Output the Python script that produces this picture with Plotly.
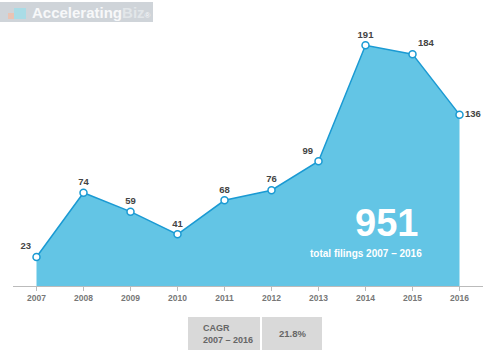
import plotly.graph_objects as go

years = [2007, 2008, 2009, 2010, 2011, 2012, 2013, 2014, 2015, 2016]
filings = [23, 74, 59, 41, 68, 76, 99, 191, 184, 136]
label_pos = ["top left", "top center", "top center", "top center", "top center",
             "top center", "top left", "top center", "top right", "middle right"]
tick_labels = [str(y) for y in years]
total_value = "951"
total_text = "total filings 2007 – 2016"
cagr_label = "CAGR<br>2007 – 2016"
cagr_value = "21.8%"

FONT = "Liberation Sans, Arial, sans-serif"

fig = go.Figure()
fig.add_trace(go.Scatter(
    x=years, y=filings, mode="lines+markers+text",
    fill="tozeroy", fillcolor="#63c5e5",
    line=dict(color="#1a9ad3", width=1.5),
    marker=dict(size=7, color="white", line=dict(color="#1a9ad3", width=1.5)),
    text=["<b>" + str(v) + "</b>" for v in filings], textposition=label_pos,
    textfont=dict(family=FONT, size=9.5, color="#444444"),
    cliponaxis=False, hoverinfo="skip", showlegend=False,
))

fig.update_layout(
    width=500, height=363,
    margin=dict(l=13, r=17, t=34, b=77),
    paper_bgcolor="white", plot_bgcolor="white",
    font=dict(family=FONT),
    xaxis=dict(range=[2006.5, 2016.5], tickvals=years,
               ticktext=["<b>" + t + "</b>" for t in tick_labels],
               showgrid=False, zeroline=False, showline=True, linecolor="#bbbbbb",
               linewidth=1, ticks="outside", ticklen=4, tickcolor="#bbbbbb",
               tickfont=dict(family=FONT, size=8.5, color="#777777")),
    yaxis=dict(range=[0, 200], visible=False, showgrid=False, zeroline=False),
)

# Big total annotation
fig.add_annotation(x=2014.45, y=50, xref="x", yref="y", text="<b>" + total_value + "</b>",
                   showarrow=False, font=dict(family=FONT, size=38, color="white"),
                   xanchor="center", yanchor="middle")
fig.add_annotation(x=2014.0, y=26, xref="x", yref="y", text="<b>" + total_text + "</b>",
                   showarrow=False, font=dict(family=FONT, size=10, color="white"),
                   xanchor="center", yanchor="middle")

def px_x(p):
    return (p - 13) / 470
def px_y(p):
    return (286 - p) / 252

# Logo
fig.add_shape(type="rect", xref="paper", yref="paper",
              x0=px_x(0), x1=px_x(153), y0=px_y(22), y1=px_y(2),
              fillcolor="#cfd4d9", line=dict(width=0), layer="above")
fig.add_shape(type="rect", xref="paper", yref="paper",
              x0=px_x(8), x1=px_x(20), y0=px_y(19), y1=px_y(13),
              fillcolor="#eac3b3", line=dict(width=0), layer="above")
fig.add_shape(type="rect", xref="paper", yref="paper",
              x0=px_x(14), x1=px_x(26), y0=px_y(19), y1=px_y(8),
              fillcolor="#a9dce6", line=dict(width=0), layer="above")
fig.add_annotation(xref="paper", yref="paper", x=px_x(30), y=px_y(12),
                   text="<b>Accelerating</b><b><span style='color:#e2e6e9'>Biz</span></b><span style='font-size:8px'>®</span>",
                   showarrow=False, xanchor="left", yanchor="middle",
                   font=dict(family=FONT, size=15, color="#f7f8f9"))

# CAGR table
fig.add_shape(type="rect", xref="paper", yref="paper",
              x0=px_x(188), x1=px_x(260), y0=px_y(350), y1=px_y(317),
              fillcolor="#d9d9d9", line=dict(width=0))
fig.add_shape(type="rect", xref="paper", yref="paper",
              x0=px_x(262), x1=px_x(322), y0=px_y(350), y1=px_y(317),
              fillcolor="#d9d9d9", line=dict(width=0))
fig.add_annotation(xref="paper", yref="paper", x=px_x(201), y=px_y(333.5),
                   text="<b>" + cagr_label + "</b>", showarrow=False, xanchor="left",
                   yanchor="middle", align="left",
                   font=dict(family=FONT, size=9, color="#666666"))
fig.add_annotation(xref="paper", yref="paper", x=px_x(292), y=px_y(333.5),
                   text="<b>" + cagr_value + "</b>", showarrow=False, xanchor="center",
                   yanchor="middle", font=dict(family=FONT, size=9.5, color="#666666"))

fig.write_html("out.html", config={"displayModeBar": False},
               post_script="document.body.style.margin='0px';")
